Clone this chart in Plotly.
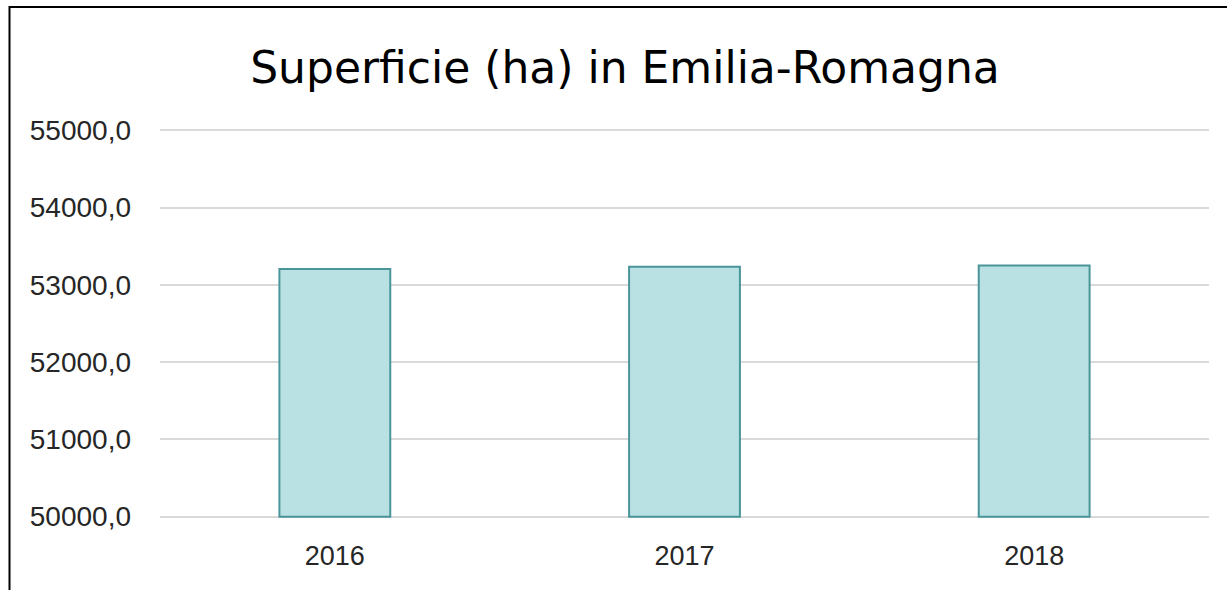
import plotly.graph_objects as go

years = ["2016", "2017", "2018"]
superficie = [53204, 53234, 53251]
y_ticks = [50000, 51000, 52000, 53000, 54000, 55000]
y_min, y_max = 50000, 55000

W, H = 1227, 590
top_px, bot_px = 130, 517          # pixel rows of 55000 and 50000
PAD = 30                           # range padding so edge gridlines are drawn
pad_px = PAD * (bot_px - top_px) / (y_max - y_min)
L = 160
R = W - 1209
T = top_px - pad_px
B = H - bot_px - pad_px
pw, ph = W - L - R, H - T - B

fig = go.Figure(go.Bar(
    x=years,
    y=[v - y_min for v in superficie],
    base=y_min,
    marker=dict(color="#B9E0E3", line=dict(color="#4A9599", width=2)),
    width=0.317,
))

fig.update_layout(
    width=W, height=H,
    margin=dict(l=L, r=R, t=T, b=B),
    paper_bgcolor="white", plot_bgcolor="white",
    separators=",.",
    title=dict(text="Superficie (ha) in Emilia-Romagna", x=625 / W, xanchor="center",
               y=1 - 68 / H, yanchor="middle",
               font=dict(family="DejaVu Sans", size=44, color="black")),
    xaxis=dict(showgrid=False, showline=False, ticks="",
               tickfont=dict(family="Liberation Sans", size=27, color="#262626"),
               ticklabelstandoff=18),
    yaxis=dict(range=[y_min - PAD, y_max + PAD], tickvals=y_ticks, tickformat=".1f",
               showgrid=True, gridcolor="#D9D9D9", gridwidth=2,
               zeroline=False, showline=False, ticks="",
               tickfont=dict(family="Liberation Sans", size=28, color="#262626"),
               ticklabelstandoff=28),
    showlegend=False,
    shapes=[dict(type="rect", xref="paper", yref="paper",
                 x0=(9.5 - L) / pw, x1=1.3,
                 y0=-0.5, y1=1 + (T - 6.5) / ph,
                 line=dict(color="black", width=2), fillcolor="rgba(0,0,0,0)",
                 layer="below")],
)

fig.write_html("out.html", config={"displayModeBar": False},
               post_script="document.body.style.margin='0';")
